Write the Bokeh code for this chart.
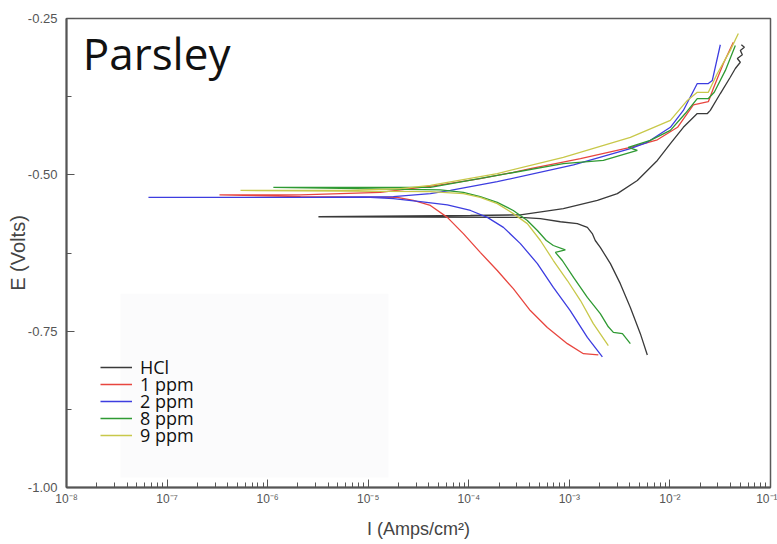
from bokeh.plotting import figure
from bokeh.models import (Range1d, FixedTicker, CustomJSTickFormatter, PrintfTickFormatter,
                          Legend, LegendItem, Label, BoxAnnotation)
from bokeh.embed import file_html
from bokeh.resources import INLINE

# ---------------- data (I in A/cm^2, E in V) ----------------
series_names = ["HCl", "1 ppm", "2 ppm", "8 ppm", "9 ppm"]

I_hcl = [5.96e-3, 5.08e-3, 4.04e-3, 3.21e-3, 2.56e-3, 2.03e-3, 1.81e-3, 1.69e-3, 1.51e-3, 1.20e-3,
         8.15e-4, 5.15e-4, 3.26e-4, 3.20e-6, 1.04e-4, 3.26e-4, 8.71e-4, 1.90e-3, 3.00e-3, 4.74e-3,
         7.50e-3, 1.01e-2, 1.36e-2, 1.87e-2, 2.36e-2, 2.52e-2, 3.17e-2, 3.98e-2, 4.47e-2, 5.01e-2,
         4.68e-2, 5.25e-2, 5.01e-2, 5.50e-2, 5.13e-2]
E_hcl = [-0.788, -0.754, -0.712, -0.674, -0.642, -0.616, -0.605, -0.594, -0.584, -0.578,
         -0.575, -0.570, -0.568, -0.567, -0.565, -0.564, -0.554, -0.541, -0.530, -0.509,
         -0.477, -0.450, -0.424, -0.402, -0.402, -0.397, -0.370, -0.344, -0.330, -0.320,
         -0.314, -0.308, -0.301, -0.296, -0.292]

I_1 = [1.94e-3, 1.38e-3, 9.55e-4, 6.04e-4, 4.09e-4, 2.77e-4, 1.92e-4, 1.30e-4, 8.83e-5, 6.12e-5,
       4.15e-5, 2.81e-5, 1.95e-5, 2.12e-6, 3.32e-7, 2.12e-6, 1.32e-5, 4.88e-5, 1.30e-4, 2.77e-4,
       4.09e-4, 1.29e-3, 4.04e-3, 7.50e-3, 1.19e-2, 1.71e-2, 2.41e-2, 2.70e-2, 3.40e-2, 4.27e-2]
E_1 = [-0.788, -0.786, -0.770, -0.744, -0.717, -0.682, -0.653, -0.624, -0.594, -0.568,
       -0.549, -0.541, -0.536, -0.535, -0.532, -0.532, -0.528, -0.517, -0.506, -0.496,
       -0.490, -0.474, -0.456, -0.444, -0.424, -0.388, -0.383, -0.362, -0.322, -0.288]

I_2 = [2.13e-3, 1.51e-3, 1.02e-3, 6.93e-4, 4.81e-4, 3.26e-4, 2.21e-4, 1.53e-4, 1.04e-4, 6.12e-5,
       3.30e-5, 1.78e-5, 1.05e-5, 6.53e-8, 2.12e-6, 1.78e-5, 4.15e-5, 6.56e-5, 1.92e-4, 1.10e-3,
       4.04e-3, 5.96e-3, 1.01e-2, 1.36e-2, 1.87e-2, 2.41e-2, 2.64e-2, 3.17e-2]
E_2 = [-0.791, -0.760, -0.717, -0.680, -0.642, -0.610, -0.584, -0.568, -0.557, -0.548,
       -0.543, -0.538, -0.536, -0.536, -0.536, -0.535, -0.530, -0.525, -0.511, -0.484,
       -0.458, -0.448, -0.424, -0.397, -0.354, -0.354, -0.349, -0.292]

I_8 = [4.04e-3, 3.37e-3, 2.74e-3, 2.44e-3, 2.03e-3, 1.51e-3, 1.10e-3, 8.51e-4, 7.26e-4, 9.12e-4,
       6.93e-4, 5.90e-4, 4.81e-4, 3.82e-4, 2.77e-4, 1.92e-4, 1.30e-4, 8.83e-5, 5.22e-5, 1.14e-6,
       1.32e-5, 4.15e-5, 1.92e-4, 8.71e-4, 2.18e-3, 4.74e-3, 3.85e-3, 6.38e-3, 1.01e-2, 1.42e-2,
       1.87e-2, 2.41e-2, 2.76e-2, 3.56e-2, 4.47e-2]
E_8 = [-0.770, -0.754, -0.752, -0.743, -0.722, -0.696, -0.664, -0.637, -0.624, -0.620,
       -0.613, -0.605, -0.589, -0.573, -0.557, -0.544, -0.535, -0.528, -0.524, -0.520,
       -0.520, -0.520, -0.501, -0.482, -0.477, -0.461, -0.456, -0.445, -0.429, -0.402,
       -0.378, -0.378, -0.368, -0.333, -0.293]

I_9 = [2.44e-3, 1.73e-3, 1.29e-3, 9.55e-4, 6.93e-4, 5.15e-4, 3.82e-4, 2.77e-4, 1.92e-4, 1.30e-4,
       8.83e-5, 4.15e-5, 5.37e-7, 6.65e-6, 2.09e-5, 4.15e-5, 1.92e-4, 8.71e-4, 4.04e-3, 1.01e-2,
       1.49e-2, 1.87e-2, 2.41e-2, 2.96e-2, 3.98e-2, 4.79e-2]
E_9 = [-0.773, -0.738, -0.701, -0.669, -0.637, -0.605, -0.578, -0.562, -0.546, -0.536,
       -0.530, -0.527, -0.525, -0.525, -0.522, -0.517, -0.498, -0.472, -0.440, -0.413,
       -0.381, -0.368, -0.368, -0.338, -0.301, -0.274]

x_major = [1e-8, 1e-7, 1e-6, 1e-5, 1e-4, 1e-3, 1e-2, 1e-1]
y_major = [-1.00, -0.75, -0.50, -0.25]
y_minor = [-0.875, -0.625, -0.375]

colors = ["#3a3a3a", "#e8463f", "#3d3de0", "#2f9a33", "#c8c84a"]
series = [(I_hcl, E_hcl), (I_1, E_1), (I_2, E_2), (I_8, E_8), (I_9, E_9)]

# ---------------- figure ----------------
p = figure(width=777, height=544, x_axis_type="log", output_backend="svg",
           toolbar_location=None, x_range=Range1d(1e-8, 1e-1), y_range=Range1d(-1.0, -0.25),
           min_border_left=66, min_border_right=7, min_border_top=18, min_border_bottom=57)
p.background_fill_color = "white"
p.border_fill_color = "white"
p.grid.visible = False
p.outline_line_color = "#5a5a5a"
p.outline_line_width = 1.5

x_minor = [m * t for t in x_major[:-1] for m in range(2, 10)]
p.xaxis.ticker = FixedTicker(ticks=x_major, minor_ticks=x_minor)
p.xaxis.formatter = CustomJSTickFormatter(code="""
const e = Math.round(Math.log10(tick));
const sup = {"-":"\u207b","0":"\u2070","1":"\u00b9","2":"\u00b2","3":"\u00b3","4":"\u2074",
             "5":"\u2075","6":"\u2076","7":"\u2077","8":"\u2078","9":"\u2079"};
return "10" + String(e).split("").map(c => sup[c]).join("");
""")
p.yaxis.ticker = FixedTicker(ticks=y_major, minor_ticks=y_minor)
p.yaxis.formatter = PrintfTickFormatter(format="%.2f")

for ax in (p.xaxis[0], p.yaxis[0]):
    ax.axis_line_color = "#555555"
    ax.axis_line_width = 2
    ax.major_tick_in = 8
    ax.major_tick_out = 0
    ax.minor_tick_in = 5
    ax.minor_tick_out = 0
    ax.major_tick_line_color = "#555555"
    ax.minor_tick_line_color = "#555555"
    ax.major_label_text_font = "Liberation Sans"
    ax.major_label_text_color = "#555555"
    ax.axis_label_text_font = "Liberation Sans"
    ax.axis_label_text_font_style = "normal"
    ax.axis_label_text_color = "#444444"

p.xaxis.major_label_text_font_size = "12px"
p.yaxis.major_label_text_font_size = "13px"
p.xaxis.major_label_standoff = 4
p.yaxis.major_label_standoff = 9
p.xaxis.axis_label = "I (Amps/cm\u00b2)"
p.yaxis.axis_label = "E (Volts)"
p.xaxis.axis_label_text_font_size = "18px"
p.yaxis.axis_label_text_font_size = "20px"
p.xaxis.axis_label_standoff = 10
p.yaxis.axis_label_standoff = -4

# very faint off-white panel behind the legend, as in the original image
p.add_layout(BoxAnnotation(left=3.44e-8, right=1.59e-5, top=-0.69, bottom=-0.984,
                           fill_color="#fbfbfc", fill_alpha=1.0, line_alpha=0, level="underlay"))

renderers = []
for name, (I, E), c in zip(series_names, series, colors):
    renderers.append(p.line(I, E, line_color=c, line_width=1.3))

# one small legend per entry so the rows can sit as tightly as in the original
row_offsets = [108, 91, 74, 57, 40]
for name, r, off in zip(series_names, renderers, row_offsets):
    lg = Legend(items=[LegendItem(label=name, renderers=[r])], location=(34, off),
                padding=0, margin=0, spacing=0,
                glyph_width=32, glyph_height=24, label_height=24, label_standoff=8,
                label_text_font="Open Sans", label_text_font_size="18px",
                label_text_color="#111111", label_text_baseline="alphabetic",
                border_line_alpha=0, background_fill_alpha=0)
    p.add_layout(lg)

title = Label(x=1.45e-8, y=-0.3044, text="Parsley", text_font="Open Sans",
              text_font_size="44px", text_color="#111111", text_baseline="alphabetic")
p.add_layout(title)

open("out.html", "w").write(file_html(p, INLINE))
